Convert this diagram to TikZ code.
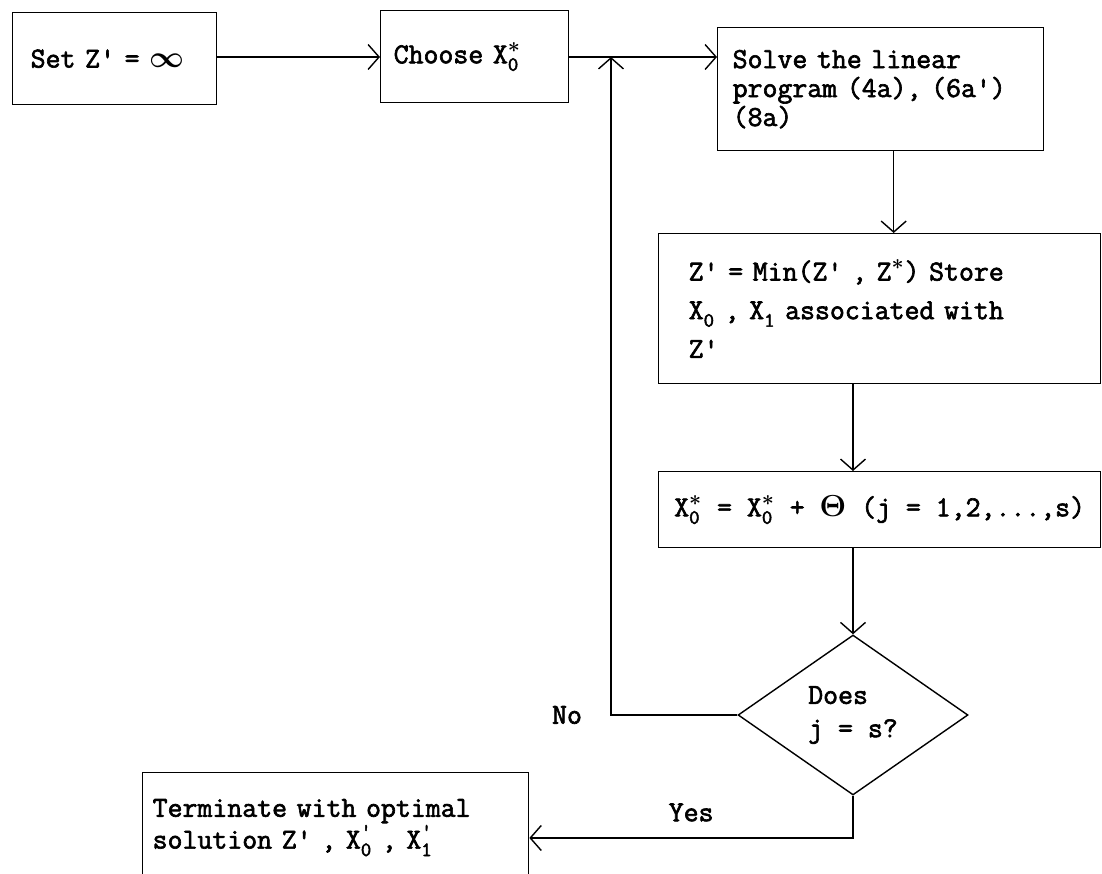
\documentclass[tikz,border=0pt]{standalone}
\usepackage{amsmath}
\usepackage{fontspec}
\setmonofont{Latin Modern Mono}[FakeBold=2.2]
\usetikzlibrary{shapes.geometric, arrows.meta, positioning}

% X with subscript and superscript
\newcommand{\Xs}[2]{$\text{X}_{\text{#1}}^{#2}$}

\begin{document}
\begin{tikzpicture}[x=0.02cm, y=-0.02cm,
  font=\ttfamily\fontsize{16.5}{16.5}\selectfont,
  block/.style={rectangle, draw, thick, anchor=north west, align=left, inner ysep=0pt},
  decision/.style={diamond, draw, thick, minimum width=4.6cm, minimum height=3.2cm, inner sep=0pt, align=left},
  arrow/.style={thick,-{Straight Barb[length=2.2mm,width=5mm]}}]

\useasboundingbox (0,0) rectangle (1102,874);
\clip (0,0) rectangle (1102,874);

\node[block, minimum width=4.08cm, minimum height=1.84cm, inner xsep=0.36cm, text width=3.36cm] (setz) at (12,12) {Set Z' = $\boldsymbol{\infty}$};
\node[block, minimum width=3.76cm, minimum height=1.84cm, inner xsep=0.26cm, text width=3.24cm] (choose) at (380,10) {Choose \Xs{0}{\boldsymbol{\ast}}};
\node[block, minimum width=6.52cm, minimum height=2.46cm, inner xsep=0.3cm, text width=5.92cm] (solve) at (717,27) {Solve the linear\\program (4a), (6a')\\(8a)};
\node[block, minimum width=8.84cm, minimum height=3cm, inner xsep=0.6cm, text width=7.64cm,
  font=\ttfamily\fontsize{16.5}{22}\selectfont] (mn) at (658,233)
  {Z' = Min(Z' , Z$^{\boldsymbol{\ast}}$) Store\\\Xs{0}{} , \Xs{1}{} associated with\\Z'};
\node[block, minimum width=8.84cm, minimum height=1.52cm, inner xsep=0.3cm] (xo) at (658,471)
  {\Xs{0}{\boldsymbol{\ast}} = \Xs{0}{\boldsymbol{\ast}} + $\boldsymbol{\Theta}$ (j = 1,2,...,s)};
\node[decision, font=\ttfamily\fontsize{16.5}{19}\selectfont] (dec) at (853,715) {Does\\j = s?};
\node[block, minimum width=7.72cm, minimum height=2.2cm, inner xsep=0.2cm, text width=7.32cm] (term) at (142,772)
  {Terminate with optimal\\solution Z' , \Xs{0}{\text{'}} , \Xs{1}{\text{'}}};

\coordinate (jn) at (611,57);

\draw[arrow] (setz.east |- jn) -- (choose.west |- jn);
\draw[arrow] (choose.east |- jn) -- (solve.west |- jn);
\draw[arrow] ([xshift=0.26cm]solve.south) -- ([xshift=0.26cm]solve.south |- mn.north);
\draw[arrow] (mn.south -| dec.north) -- (xo.north -| dec.north);
\draw[arrow] (xo.south -| dec.north) -- (dec.north);
\draw[arrow] (dec.west) -- (dec.west -| jn) node[left=0.45cm] (no) {No} -- (jn);
\draw[arrow] (dec.south) |- ([yshift=-1.32cm]term.north east) node[pos=0.75, above=0.2cm] (yes) {Yes};

\end{tikzpicture}
\end{document}
